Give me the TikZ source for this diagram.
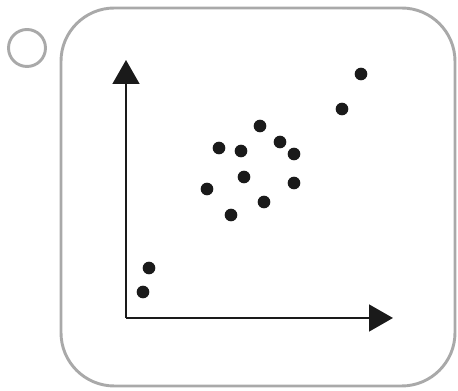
\documentclass[tikz,border=0pt]{standalone}
\usetikzlibrary{arrows.meta}
\definecolor{framegray}{HTML}{A9A9A9}
\definecolor{dotblack}{HTML}{1A1A1A}
\tikzset{
    frame/.style={draw=framegray, line width=2.2pt},
    axis/.style={draw=dotblack, line width=2.1pt, -{Triangle[length=18pt,width=20pt]}},
    datadot/.style={circle, fill=dotblack, inner sep=0pt, minimum size=9.5pt}
}

\begin{document}
\begin{tikzpicture}[x=0.75pt,y=-0.75pt]
    \useasboundingbox (0,0) rectangle (458,391);
    \draw[frame] (27,48) circle (18.5); % option marker
    \draw[frame, rounded corners=40pt] (61,8) rectangle (455,386); % card
    \coordinate (origin) at (126,318);
    \coordinate (ytip) at (126,60);
    \coordinate (xtip) at (393,318);
    \draw[axis] (origin) -- (ytip);
    \draw[axis] (origin) -- (xtip);
    \foreach \px/\py [count=\i] in {149/268, 143/292, 219/148, 241/151, 260/126, 280/142, 294/154,
        244/177, 207/189, 294/183, 231/215, 264/202, 342/109, 361/74}
        \node[datadot] (dot\i) at (\px,\py) {};
\end{tikzpicture}
\end{document}
